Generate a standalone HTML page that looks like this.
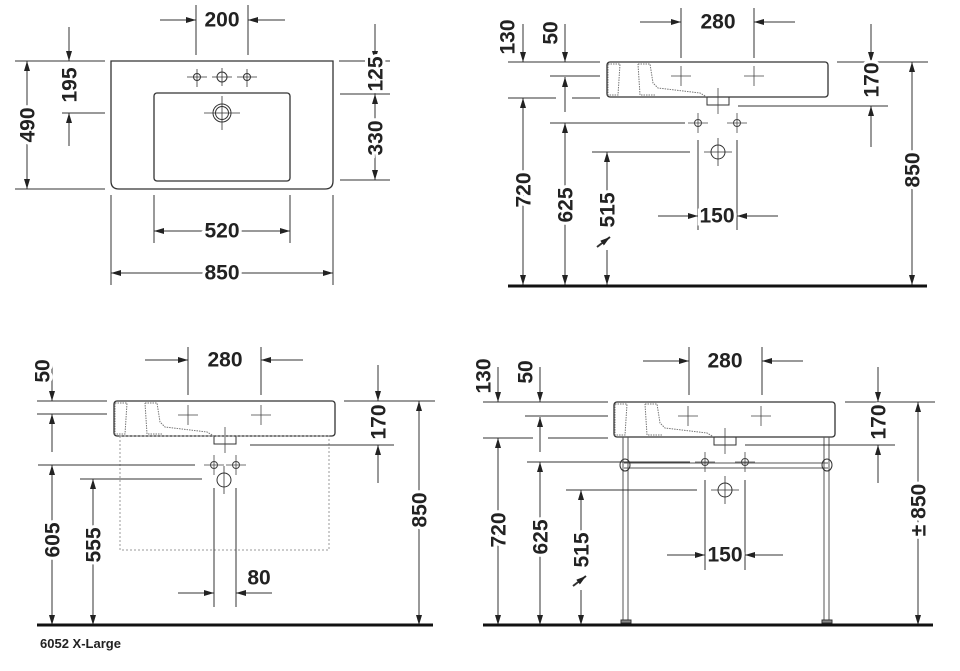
<!DOCTYPE html>
<html><head><meta charset="utf-8"><style>
html,body{margin:0;padding:0;background:#fff;}
svg{display:block}
text{font-family:"Liberation Sans",sans-serif;font-weight:bold;font-size:21px;fill:#222;}
.t{paint-order:stroke;stroke:#fff;stroke-width:6px;}
.m path{marker-end:url(#a);}
</style></head><body>
<svg width="960" height="671" viewBox="0 0 960 671" xmlns="http://www.w3.org/2000/svg">
<defs>
<marker id="a" viewBox="0 0 10 6" refX="10" refY="3" markerWidth="10" markerHeight="6" orient="auto" markerUnits="userSpaceOnUse"><path d="M0,0L10,3L0,6z" fill="#222"/></marker>
<g id="ch"><circle r="3.5" fill="none" stroke="#444"/><path d="M-10,0H10M0,-10V10" stroke="#444" stroke-width="0.8"/></g>
<g id="basin" fill="none">
<rect x="0" y="0" width="221" height="35" rx="3" stroke="#333" stroke-width="1.3"/>
<path d="M1,2H13L11,33H1Z" stroke="#777" stroke-dasharray="1.5,1"/>
<path d="M31,2H43L46,21L51,26L93,31L100,35M48,33H33L31,2" stroke="#777" stroke-dasharray="1.5,1"/>
<path d="M100,35V43H122V35" stroke="#333"/>
<path d="M111,26V52" stroke="#444" stroke-width="0.8"/>
<path d="M64,14H84M74,4V24M137,14H157M147,4V24" stroke="#444" stroke-width="0.8"/>
</g>
</defs>
<g stroke="#333" stroke-width="1" fill="none">
<!-- Q1 top view -->
<path d="M111,61H333V181Q333,189 325,189H119Q111,189 111,181Z" stroke-width="1.3"/>
<rect x="154" y="93" width="136" height="88" rx="3" stroke-width="1.3"/>
<circle cx="197" cy="77" r="3.5"/><circle cx="222" cy="77" r="5"/><circle cx="247" cy="77" r="3.5"/>
<path d="M187,77H207M197,69V87M212,77H232M222,68V86M237,77H257M247,69V87" stroke-width="0.8"/>
<circle cx="222" cy="113" r="9"/><circle cx="222" cy="113" r="6.5"/>
<path d="M204,113H240M222,96V130" stroke-width="0.8"/>
<path d="M196,5V55M248,5V55"/>
<path d="M15,61H105M15,189H105M62,113H105"/>
<path d="M339,61H390M340,94H390M340,180H390"/>
<path d="M111,195V285M333,195V285M154,195V243M290,195V243"/>
<g class="m">
<path d="M160,20H196"/><path d="M285,20H248"/>
<path d="M27,125V61"/><path d="M27,125V189"/>
<path d="M69,27V61"/><path d="M69,146V113"/>
<path d="M375,24V61"/><path d="M375,70V94"/><path d="M375,138V94"/><path d="M375,138V180"/>
<path d="M222,231H154"/><path d="M222,231H290"/><path d="M222,273H111"/><path d="M222,273H333"/>
</g>
</g>
<g text-anchor="middle" dominant-baseline="central">
<text class="t" x="222" y="20">200</text>
<text class="t" transform="translate(28,125) rotate(-90)">490</text>
<text class="t" transform="translate(70,85) rotate(-90)">195</text>
<text class="t" transform="translate(376,74) rotate(-90)">125</text>
<text class="t" transform="translate(376,138) rotate(-90)">330</text>
<text class="t" x="222" y="231">520</text>
<text class="t" x="222" y="273">850</text>
</g>

<!-- Q2 side view -->
<use href="#basin" x="607" y="62"/>
<g stroke="#333" stroke-width="1" fill="none">
<path d="M681,8V58M754,8V58"/>
<path d="M508,62H600M550,76H600M508,98H556M572,98H600M550,123H685M592,152H690"/>
<path d="M698,140V230M737,140V230"/>
<path d="M837,62H928M738,106H888"/>
<g class="m">
<path d="M640,22H681"/><path d="M795,22H754"/>
<path d="M523,24V62"/><path d="M565,24V62"/><path d="M565,112V77"/>
<path d="M523,190V98"/><path d="M523,190V285"/><path d="M565,200V123"/><path d="M565,200V285"/><path d="M607,195V152"/><path d="M607,250V285"/>
<path d="M658,216H698"/><path d="M778,216H737"/>
<path d="M871,24V62"/><path d="M871,147V106"/>
<path d="M912,170V62"/><path d="M912,170V285"/>
<path d="M597,247L610,237" stroke-width="2"/>
</g>
<circle cx="718" cy="152" r="7"/><path d="M704,152H732M718,138V166" stroke-width="0.8"/>
<path d="M508,286H927" stroke="#111" stroke-width="3"/>
</g>
<use href="#ch" x="698" y="123"/><use href="#ch" x="737" y="123"/>
<g text-anchor="middle" dominant-baseline="central">
<text class="t" x="718" y="22">280</text>
<text class="t" transform="translate(508,37) rotate(-90)">130</text>
<text class="t" transform="translate(551,33) rotate(-90)">50</text>
<text class="t" transform="translate(524,190) rotate(-90)">720</text>
<text class="t" transform="translate(566,205) rotate(-90)">625</text>
<text class="t" transform="translate(608,210) rotate(-90)">515</text>
<text class="t" x="717" y="216">150</text>
<text class="t" transform="translate(872,80) rotate(-90)">170</text>
<text class="t" transform="translate(913,170) rotate(-90)">850</text>
</g>

<!-- Q3 -->
<use href="#basin" x="114" y="401"/>
<g stroke="#333" stroke-width="1" fill="none">
<rect x="120" y="436" width="209" height="114" stroke="#999" stroke-dasharray="2,2"/>
<path d="M188,347V395M261,347V395"/>
<path d="M37,401H107M37,414H107M38,465H195M80,479H202"/>
<path d="M214,488V607M236,488V607"/>
<path d="M344,401H435M250,445H394"/>
<g class="m">
<path d="M145,360H188"/><path d="M303,360H261"/>
<path d="M52,365V401"/><path d="M52,452V414"/>
<path d="M52,540V465"/><path d="M52,540V625"/><path d="M93,545V479"/><path d="M93,545V625"/>
<path d="M178,593H214"/><path d="M272,593H236"/>
<path d="M378,365V401"/><path d="M378,483V445"/>
<path d="M419,510V401"/><path d="M419,510V625"/>
</g>
<circle cx="224" cy="480" r="7"/>
<path d="M224,466V494" stroke-width="0.8"/>
<path d="M37,625H433" stroke="#111" stroke-width="3"/>
</g>
<use href="#ch" x="214" y="465"/><use href="#ch" x="236" y="465"/>
<g text-anchor="middle" dominant-baseline="central">
<text class="t" x="225" y="360">280</text>
<text class="t" transform="translate(43,371) rotate(-90)">50</text>
<text class="t" transform="translate(53,540) rotate(-90)">605</text>
<text class="t" transform="translate(94,545) rotate(-90)">555</text>
<text x="259" y="578">80</text>
<text class="t" transform="translate(379,422) rotate(-90)">170</text>
<text class="t" transform="translate(420,510) rotate(-90)">850</text>
</g>
<text x="40" y="648" style="font-size:13px">6052 X-Large</text>

<!-- Q4 -->
<use href="#basin" x="614" y="402"/>
<g stroke="#333" stroke-width="1" fill="none">
<path d="M623,437V620M628,437V620M824,437V620M829,437V620" stroke="#555"/>
<path d="M621,620H631V623H621ZM822,620H832V623H822Z" fill="#888"/>
<path d="M624,463H828M624,468H828" stroke="#555"/>
<ellipse cx="625" cy="465" rx="5" ry="6"/><ellipse cx="827" cy="465" rx="5" ry="6"/>
<path d="M689,347V395M762,347V395"/>
<path d="M483,402H608M525,416H608M483,438H533M548,438H608M527,462H690M566,490H697"/>
<path d="M705,480V570M745,480V570"/>
<path d="M845,402H935M745,445H895"/>
<g class="m">
<path d="M643,361H689"/><path d="M803,361H762"/>
<path d="M498,367V402"/><path d="M540,367V402"/><path d="M540,452V417"/>
<path d="M498,530V438"/><path d="M498,530V625"/><path d="M540,535V462"/><path d="M540,535V625"/><path d="M581,537V490"/><path d="M581,590V625"/>
<path d="M667,555H705"/><path d="M783,555H745"/>
<path d="M878,367V402"/><path d="M878,483V445"/>
<path d="M918,510V402"/><path d="M918,510V625"/>
<path d="M573,586L586,576" stroke-width="2"/>
</g>
<circle cx="725" cy="490" r="7"/><path d="M711,490H739M725,476V504" stroke-width="0.8"/>
<path d="M483,625H933" stroke="#111" stroke-width="3"/>
</g>
<use href="#ch" x="705" y="462"/><use href="#ch" x="745" y="462"/>
<g text-anchor="middle" dominant-baseline="central">
<text class="t" x="725" y="361">280</text>
<text class="t" transform="translate(484,376) rotate(-90)">130</text>
<text class="t" transform="translate(526,372) rotate(-90)">50</text>
<text class="t" transform="translate(499,530) rotate(-90)">720</text>
<text class="t" transform="translate(541,537) rotate(-90)">625</text>
<text class="t" transform="translate(582,550) rotate(-90)">515</text>
<text class="t" x="725" y="555">150</text>
<text class="t" transform="translate(879,422) rotate(-90)">170</text>
<text class="t" transform="translate(919,510) rotate(-90)">± 850</text>
</g>
</svg>
</body></html>
